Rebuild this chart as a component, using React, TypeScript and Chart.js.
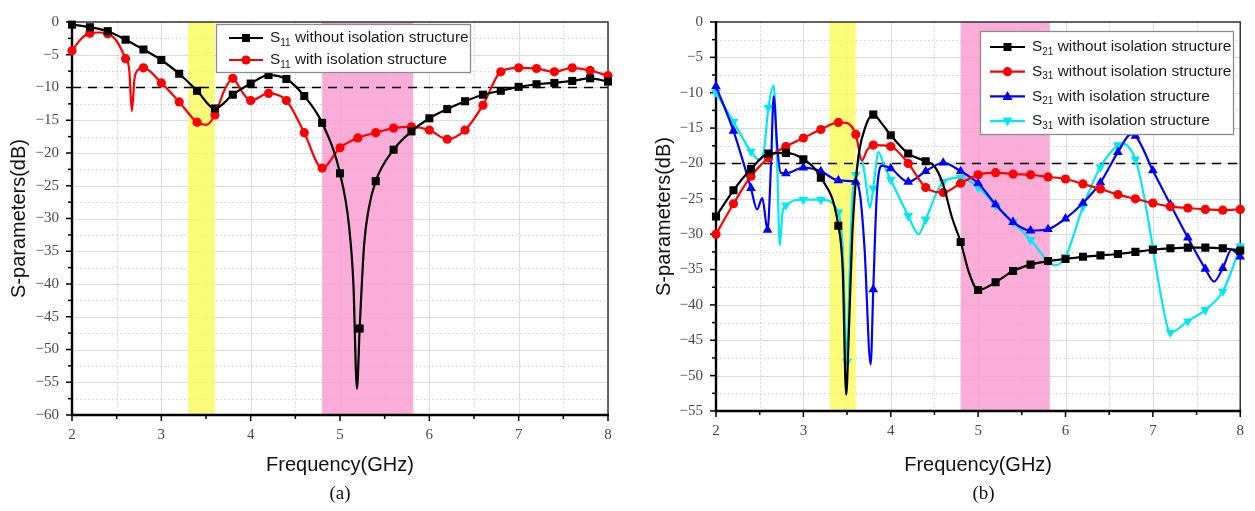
import React, { useEffect, useRef } from 'react';
import { Chart, registerables } from 'chart.js';

Chart.register(...registerables);

type Pt = [number, number, number]; // [frequency GHz, dB, marker shown (1/0)]

// ---------- axis ranges / tick values ----------
const FREQ_MIN = 2;
const FREQ_MAX = 8;
const xMajorTicks = [2, 3, 4, 5, 6, 7, 8];
const yMajorTicksA = [0, -5, -10, -15, -20, -25, -30, -35, -40, -45, -50, -55, -60];
const yMajorTicksB = [0, -5, -10, -15, -20, -25, -30, -35, -40, -45, -50, -55];

// frequency bands (GHz)
const yellowBand = [3.3, 3.6];
const pinkBand = [4.8, 5.82];

// reference dashed levels (dB)
const refLevelA = -10;
const refLevelB = -20;

// ---------- (a) S11 ----------
const s11Without: Pt[] = [
  [2.0, -0.4, 1], [2.2, -0.8, 1], [2.4, -1.4, 1], [2.6, -2.7, 1], [2.8, -4.2, 1],
  [3.0, -5.8, 1], [3.2, -7.9, 1], [3.4, -10.5, 1], [3.6, -13.2, 1], [3.8, -11.1, 1],
  [4.0, -9.4, 1], [4.2, -8.1, 1], [4.4, -8.7, 1], [4.6, -11.3, 1], [4.8, -15.4, 1],
  [5.0, -23.1, 1], [5.1, -31.0, 0], [5.15, -40.0, 0], [5.19, -56.0, 0], [5.22, -46.8, 1],
  [5.27, -34.0, 0], [5.32, -28.6, 0], [5.4, -24.3, 1], [5.6, -19.5, 1], [5.8, -16.7, 1],
  [6.0, -14.7, 1], [6.2, -13.3, 1], [6.4, -12.1, 1], [6.6, -11.1, 1], [6.8, -10.5, 1],
  [7.0, -9.9, 1], [7.2, -9.5, 1], [7.4, -9.3, 1], [7.6, -9.0, 1], [7.8, -8.6, 1], [8.0, -9.1, 1],
];
const s11With: Pt[] = [
  [2.0, -4.4, 1], [2.1, -2.6, 0], [2.2, -1.7, 1], [2.3, -1.6, 0], [2.4, -1.8, 1],
  [2.5, -2.9, 0], [2.6, -5.6, 1], [2.64, -7.2, 0], [2.67, -13.6, 0], [2.7, -8.6, 0],
  [2.75, -7.2, 0], [2.8, -7.0, 1], [3.0, -9.3, 1], [3.2, -12.2, 1], [3.4, -15.3, 1],
  [3.5, -15.7, 0], [3.6, -14.2, 1], [3.7, -10.6, 0], [3.8, -8.6, 1], [3.9, -10.6, 0],
  [4.0, -12.0, 1], [4.2, -10.9, 1], [4.4, -12.0, 1], [4.6, -16.9, 1], [4.8, -22.3, 1],
  [5.0, -19.2, 1], [5.2, -17.7, 1], [5.4, -16.9, 1], [5.6, -16.2, 1], [5.8, -16.0, 1],
  [6.0, -16.5, 1], [6.2, -17.9, 1], [6.4, -16.5, 1], [6.6, -12.7, 1], [6.8, -7.6, 1],
  [7.0, -7.0, 1], [7.2, -7.1, 1], [7.4, -7.6, 1], [7.6, -7.0, 1], [7.8, -7.4, 1], [8.0, -8.2, 1],
];

// ---------- (b) S21 / S31 ----------
const s21Without: Pt[] = [
  [2.0, -27.5, 1], [2.2, -23.8, 1], [2.4, -20.8, 1], [2.6, -18.6, 1], [2.8, -18.5, 1],
  [3.0, -19.4, 1], [3.2, -22.0, 1], [3.4, -28.8, 1], [3.45, -35.0, 0], [3.49, -52.7, 0],
  [3.52, -44.0, 0], [3.56, -30.0, 0], [3.62, -20.0, 0], [3.7, -15.2, 0], [3.8, -13.1, 1],
  [3.9, -14.4, 0], [4.0, -16.0, 1], [4.2, -18.6, 1], [4.4, -19.7, 1], [4.5, -20.4, 0],
  [4.6, -23.0, 0], [4.7, -27.6, 0], [4.8, -31.1, 1], [4.9, -35.6, 0], [5.0, -37.9, 1],
  [5.2, -36.8, 1], [5.4, -35.2, 1], [5.6, -34.3, 1], [5.8, -33.8, 1], [6.0, -33.5, 1],
  [6.2, -33.2, 1], [6.4, -33.0, 1], [6.6, -32.8, 1], [6.8, -32.5, 1], [7.0, -32.2, 1],
  [7.2, -32.0, 1], [7.4, -31.9, 1], [7.6, -31.9, 1], [7.8, -32.0, 1], [8.0, -32.3, 1],
];
const s31Without: Pt[] = [
  [2.0, -30.0, 1], [2.2, -25.7, 1], [2.4, -21.8, 1], [2.6, -19.2, 1], [2.8, -17.6, 1],
  [3.0, -16.4, 1], [3.2, -15.2, 1], [3.4, -14.2, 1], [3.5, -14.3, 0], [3.6, -15.9, 1],
  [3.67, -19.6, 0], [3.73, -18.1, 0], [3.8, -17.4, 1], [4.0, -17.6, 1], [4.2, -20.0, 1],
  [4.4, -23.4, 1], [4.6, -24.1, 1], [4.8, -22.8, 1], [5.0, -21.6, 1], [5.2, -21.3, 1],
  [5.4, -21.5, 1], [5.6, -21.6, 1], [5.8, -21.9, 1], [6.0, -22.2, 1], [6.2, -22.9, 1],
  [6.4, -23.6, 1], [6.6, -24.4, 1], [6.8, -25.0, 1], [7.0, -25.6, 1], [7.2, -26.1, 1],
  [7.4, -26.3, 1], [7.6, -26.5, 1], [7.8, -26.6, 1], [8.0, -26.5, 1],
];
const s21With: Pt[] = [
  [2.0, -9.1, 1], [2.2, -15.4, 1], [2.4, -23.5, 1], [2.47, -26.5, 0], [2.53, -24.9, 0],
  [2.59, -29.4, 1], [2.63, -20.0, 0], [2.66, -10.5, 0], [2.7, -17.5, 0], [2.74, -21.3, 0],
  [2.8, -21.4, 1], [3.0, -20.6, 1], [3.2, -21.1, 1], [3.4, -22.4, 1], [3.6, -22.6, 1],
  [3.65, -24.5, 0], [3.7, -32.0, 0], [3.77, -48.4, 0], [3.8, -37.8, 1], [3.84, -24.5, 0],
  [3.9, -20.3, 0], [4.0, -20.7, 1], [4.2, -22.6, 1], [4.4, -21.1, 1], [4.6, -19.9, 1],
  [4.8, -21.1, 1], [5.0, -22.8, 1], [5.2, -25.8, 1], [5.4, -28.3, 1], [5.6, -29.5, 1],
  [5.8, -29.3, 1], [6.0, -27.8, 1], [6.2, -25.6, 1], [6.4, -22.7, 1], [6.6, -18.4, 1],
  [6.75, -15.9, 0], [6.8, -16.1, 1], [7.0, -21.0, 1], [7.2, -25.8, 1], [7.4, -30.5, 1],
  [7.6, -34.9, 1], [7.7, -36.7, 0], [7.8, -34.8, 1], [7.9, -32.2, 0], [8.0, -33.2, 1],
];
const s31With: Pt[] = [
  [2.0, -10.0, 1], [2.2, -14.1, 1], [2.4, -18.3, 1], [2.5, -19.5, 0], [2.55, -18.0, 0],
  [2.6, -12.1, 1], [2.66, -9.0, 0], [2.7, -20.0, 0], [2.73, -31.6, 0], [2.76, -27.0, 0],
  [2.8, -25.9, 1], [3.0, -25.1, 1], [3.2, -25.1, 1], [3.4, -26.9, 1], [3.45, -32.0, 0],
  [3.5, -48.0, 1], [3.53, -35.0, 0], [3.56, -25.0, 0], [3.6, -21.6, 1], [3.66, -19.1, 0],
  [3.71, -22.2, 0], [3.76, -26.3, 0], [3.8, -23.5, 1], [3.86, -18.4, 0], [3.92, -20.2, 0],
  [4.0, -22.3, 1], [4.2, -27.4, 1], [4.32, -30.0, 0], [4.4, -27.9, 1], [4.6, -22.6, 1],
  [4.8, -22.0, 1], [5.0, -23.4, 1], [5.2, -25.9, 1], [5.4, -28.3, 1], [5.6, -30.8, 1],
  [5.8, -33.8, 1], [5.88, -34.4, 0], [6.0, -33.2, 1], [6.2, -26.1, 1], [6.4, -20.5, 1],
  [6.6, -17.4, 1], [6.65, -17.2, 0], [6.8, -19.4, 1], [6.9, -24.7, 0], [7.0, -31.9, 1],
  [7.1, -39.2, 0], [7.2, -43.9, 1], [7.4, -42.3, 1], [7.6, -40.7, 1], [7.8, -38.1, 1],
  [7.9, -35.2, 0], [8.0, -31.7, 1],
];

// ---------- styling ----------
const FONT_SANS = '"Liberation Sans", Arial, sans-serif';
const FONT_SERIF = '"Liberation Serif", "Times New Roman", serif';

type Series = {
  data: Pt[];
  color: string;
  style: 'rect' | 'circle' | 'tri' | 'triDown';
  sub: string;
  rest: string;
};

const seriesA: Series[] = [
  { data: s11Without, color: '#000000', style: 'rect', sub: '11', rest: ' without isolation structure' },
  { data: s11With, color: '#ff0000', style: 'circle', sub: '11', rest: ' with isolation structure' },
];
const seriesB: Series[] = [
  { data: s21Without, color: '#000000', style: 'rect', sub: '21', rest: ' without isolation structure' },
  { data: s31Without, color: '#ff0000', style: 'circle', sub: '31', rest: ' without isolation structure' },
  { data: s21With, color: '#0000ff', style: 'tri', sub: '21', rest: ' with isolation structure' },
  { data: s31With, color: '#00e8f2', style: 'triDown', sub: '31', rest: ' with isolation structure' },
];

function minus(v: number) {
  return v < 0 ? '\u2212' + String(Math.abs(v)) : String(v);
}

function drawMarker(ctx: CanvasRenderingContext2D, style: Series['style'], x: number, y: number, color: string) {
  ctx.fillStyle = color;
  ctx.beginPath();
  if (style === 'rect') {
    ctx.rect(x - 4, y - 4, 8, 8);
  } else if (style === 'circle') {
    ctx.arc(x, y, 4.6, 0, Math.PI * 2);
  } else if (style === 'tri') {
    ctx.moveTo(x, y - 5.5);
    ctx.lineTo(x + 5, y + 3.5);
    ctx.lineTo(x - 5, y + 3.5);
    ctx.closePath();
  } else {
    ctx.moveTo(x, y + 5.5);
    ctx.lineTo(x + 5, y - 3.5);
    ctx.lineTo(x - 5, y - 3.5);
    ctx.closePath();
  }
  ctx.fill();
}

type PanelCfg = {
  series: Series[];
  yMin: number;
  yMajor: number[];
  refLevel: number;
  canvasW: number;
  canvasH: number;
  areaLeft: number;
  areaRight: number;
  areaTop: number;
  areaBottom: number;
  yTitlePad: number;
  yLabelPad: number;
  legend: { x: number; y: number; w: number; h: number; row0: number; rowGap: number; l1: number; l2: number; tx: number };
};

function makePlugin(cfg: PanelCfg) {
  return {
    id: 'decor',
    beforeDatasetsDraw(chart: any) {
      const { ctx, chartArea: a, scales } = chart;
      const xs = scales.x;
      const ys = scales.y;
      ctx.save();
      // minor dotted grid
      ctx.lineWidth = 1;
      ctx.strokeStyle = '#cfcfcf';
      ctx.setLineDash([1.5, 2.5]);
      for (let v = FREQ_MIN + 0.5; v < FREQ_MAX; v += 1) {
        const px = Math.round(xs.getPixelForValue(v)) + 0.5;
        ctx.beginPath(); ctx.moveTo(px, a.top); ctx.lineTo(px, a.bottom); ctx.stroke();
      }
      for (let v = -2.5; v > cfg.yMin; v -= 5) {
        const py = Math.round(ys.getPixelForValue(v)) + 0.5;
        ctx.beginPath(); ctx.moveTo(a.left, py); ctx.lineTo(a.right, py); ctx.stroke();
      }
      // major solid grid
      ctx.setLineDash([]);
      ctx.strokeStyle = '#dcdcdc';
      xMajorTicks.forEach((v) => {
        const px = Math.round(xs.getPixelForValue(v)) + 0.5;
        ctx.beginPath(); ctx.moveTo(px, a.top); ctx.lineTo(px, a.bottom); ctx.stroke();
      });
      cfg.yMajor.forEach((v) => {
        const py = Math.round(ys.getPixelForValue(v)) + 0.5;
        ctx.beginPath(); ctx.moveTo(a.left, py); ctx.lineTo(a.right, py); ctx.stroke();
      });
      // bands
      const band = (b: number[], color: string) => {
        const x0 = xs.getPixelForValue(b[0]);
        const x1 = xs.getPixelForValue(b[1]);
        ctx.fillStyle = color;
        ctx.fillRect(x0, a.top, x1 - x0, a.bottom - a.top);
      };
      band(yellowBand, 'rgba(250,250,100,0.86)');
      band(pinkBand, 'rgba(248,160,210,0.86)');
      // reference dashed line
      const ry = ys.getPixelForValue(cfg.refLevel);
      ctx.strokeStyle = '#000';
      ctx.lineWidth = 1.6;
      ctx.setLineDash([9, 7]);
      ctx.beginPath(); ctx.moveTo(a.left, ry); ctx.lineTo(a.right, ry); ctx.stroke();
      ctx.setLineDash([]);
      // frame
      ctx.strokeStyle = '#333';
      ctx.lineWidth = 1.5;
      ctx.beginPath(); ctx.moveTo(a.left, a.top); ctx.lineTo(a.right, a.top); ctx.lineTo(a.right, a.bottom); ctx.stroke();
      ctx.strokeStyle = '#000';
      ctx.lineWidth = 2.4;
      ctx.beginPath(); ctx.moveTo(a.left, a.top - 1); ctx.lineTo(a.left, a.bottom); ctx.lineTo(a.right + 1, a.bottom); ctx.stroke();
      // ticks (outward)
      ctx.lineWidth = 1.5;
      for (let v = FREQ_MIN; v <= FREQ_MAX + 1e-9; v += 0.5) {
        const major = Math.abs(v - Math.round(v)) < 1e-6;
        const px = xs.getPixelForValue(v);
        ctx.beginPath(); ctx.moveTo(px, a.bottom); ctx.lineTo(px, a.bottom + (major ? 6 : 4)); ctx.stroke();
      }
      for (let v = 0; v >= cfg.yMin - 1e-9; v -= 2.5) {
        const major = Math.abs(v / 5 - Math.round(v / 5)) < 1e-6;
        const py = ys.getPixelForValue(v);
        ctx.beginPath(); ctx.moveTo(a.left, py); ctx.lineTo(a.left - (major ? 6 : 4), py); ctx.stroke();
      }
      ctx.restore();
    },
    afterDatasetsDraw(chart: any) {
      const { ctx, chartArea: a } = chart;
      const L = cfg.legend;
      ctx.save();
      const bx = a.left + L.x;
      const by = a.top + L.y;
      ctx.fillStyle = '#ffffff';
      ctx.fillRect(bx, by, L.w, L.h);
      ctx.strokeStyle = '#8c8c8c';
      ctx.lineWidth = 1.3;
      ctx.strokeRect(bx + 0.5, by + 0.5, L.w, L.h);
      cfg.series.forEach((s, i) => {
        const cy = by + L.row0 + i * L.rowGap;
        ctx.strokeStyle = s.color;
        ctx.lineWidth = 2.2;
        ctx.beginPath(); ctx.moveTo(bx + L.l1, cy); ctx.lineTo(bx + L.l2, cy); ctx.stroke();
        drawMarker(ctx, s.style, bx + (L.l1 + L.l2) / 2, cy, s.color);
        ctx.fillStyle = '#1a1a1a';
        ctx.textBaseline = 'middle';
        ctx.textAlign = 'left';
        let tx = bx + L.tx;
        ctx.font = `15.4px ${FONT_SANS}`;
        ctx.fillText('S', tx, cy);
        tx += ctx.measureText('S').width;
        ctx.font = `10px ${FONT_SANS}`;
        ctx.fillText(s.sub, tx, cy + 5);
        tx += ctx.measureText(s.sub).width;
        ctx.font = `15.4px ${FONT_SANS}`;
        ctx.fillText(s.rest, tx, cy);
      });
      ctx.restore();
    },
  };
}

function buildChart(canvas: HTMLCanvasElement, cfg: PanelCfg) {
  const datasets = cfg.series.map((s) => ({
    label: 'S' + s.sub + s.rest,
    data: s.data.map((p) => ({ x: p[0], y: p[1], m: p[2] })),
    borderColor: s.color,
    backgroundColor: s.color,
    borderWidth: 2.2,
    cubicInterpolationMode: 'monotone' as const,
    pointStyle: s.style === 'rect' ? 'rect' : s.style === 'circle' ? 'circle' : 'triangle',
    rotation: s.style === 'triDown' ? 180 : 0,
    pointRadius: (c: any) => (c.raw && c.raw.m ? (s.style === 'rect' ? 5.7 : s.style === 'circle' ? 4.6 : 5.6) : 0),
    pointBorderWidth: 0,
    pointHoverRadius: 0,
    clip: 8,
  }));

  const titleFont = 20;
  return new Chart(canvas, {
    type: 'line',
    data: { datasets },
    plugins: [makePlugin(cfg)],
    options: {
      responsive: false,
      animation: false,
      devicePixelRatio: 1,
      events: [],
      layout: {
        padding: {
          left: 0,
          top: cfg.areaTop,
          right: cfg.canvasW - cfg.areaRight,
          bottom: 0,
        },
      },
      plugins: {
        legend: { display: false },
        tooltip: { enabled: false },
      },
      scales: {
        x: {
          type: 'linear',
          min: FREQ_MIN,
          max: FREQ_MAX,
          afterFit: (s: any) => { s.height = cfg.canvasH - cfg.areaBottom; },
          afterBuildTicks: (s: any) => { s.ticks = xMajorTicks.map((v) => ({ value: v })); },
          grid: { display: false, drawTicks: false },
          border: { display: false },
          ticks: {
            autoSkip: false,
            maxRotation: 0,
            padding: 11,
            color: '#4a4a4a',
            font: { family: FONT_SERIF, size: 15 },
            callback: (v: any) => minus(Number(v)),
          },
          title: {
            display: true,
            text: 'Frequency(GHz)',
            color: '#111',
            font: { family: FONT_SANS, size: titleFont },
            padding: { top: 0, bottom: 34 },
          },
        },
        y: {
          type: 'linear',
          min: cfg.yMin,
          max: 0,
          afterFit: (s: any) => { s.width = cfg.areaLeft; },
          afterBuildTicks: (s: any) => { s.ticks = cfg.yMajor.map((v) => ({ value: v })); },
          grid: { display: false, drawTicks: false },
          border: { display: false },
          ticks: {
            autoSkip: false,
            padding: cfg.yLabelPad,
            color: '#4a4a4a',
            font: { family: FONT_SERIF, size: 15 },
            callback: (v: any) => minus(Number(v)),
          },
          title: {
            display: true,
            text: 'S-parameters(dB)',
            color: '#111',
            font: { family: FONT_SANS, size: titleFont },
            padding: { top: cfg.yTitlePad, bottom: 0 },
          },
        },
      },
    } as any,
  });
}

const cfgA: PanelCfg = {
  series: seriesA,
  yMin: -60,
  yMajor: yMajorTicksA,
  refLevel: refLevelA,
  canvasW: 627,
  canvasH: 511,
  areaLeft: 72,
  areaRight: 608,
  areaTop: 15,
  areaBottom: 415,
  yTitlePad: 7,
  yLabelPad: 13,
  legend: { x: 144, y: 2, w: 254, h: 48, row0: 14, rowGap: 22, l1: 13, l2: 47, tx: 54 },
};

const cfgB: PanelCfg = {
  series: seriesB,
  yMin: -55,
  yMajor: yMajorTicksB,
  refLevel: refLevelB,
  canvasW: 628,
  canvasH: 511,
  areaLeft: 89,
  areaRight: 624,
  areaTop: 13,
  areaBottom: 411,
  yTitlePad: 25,
  yLabelPad: 13,
  legend: { x: 264, y: 9, w: 253, h: 103, row0: 16, rowGap: 24.7, l1: 10, l2: 45, tx: 52 },
};

function Panel({ cfg, left, caption }: { cfg: PanelCfg; left: number; caption: string }) {
  const ref = useRef<HTMLCanvasElement | null>(null);
  useEffect(() => {
    if (!ref.current) return;
    const chart = buildChart(ref.current, cfg);
    return () => chart.destroy();
  }, [cfg]);
  const cx = (cfg.areaLeft + cfg.areaRight) / 2;
  return (
    <div style={{ position: 'absolute', left, top: 0, width: cfg.canvasW, height: cfg.canvasH }}>
      <canvas ref={ref} width={cfg.canvasW} height={cfg.canvasH} style={{ display: 'block' }} />
      <div
        style={{
          position: 'absolute',
          left: cx - 50,
          width: 100,
          top: 482,
          lineHeight: '22px',
          textAlign: 'center',
          fontFamily: FONT_SERIF,
          fontSize: 19,
          color: '#111',
        }}
      >
        {caption}
      </div>
    </div>
  );
}

export default function App() {
  useEffect(() => {
    document.body.style.margin = '0';
    document.body.style.background = '#fff';
  }, []);
  return (
    <div style={{ position: 'absolute', left: 0, top: 0, width: 1255, height: 511, background: '#fff', overflow: 'hidden' }}>
      <Panel cfg={cfgA} left={0} caption="(a)" />
      <Panel cfg={cfgB} left={627} caption="(b)" />
    </div>
  );
}
